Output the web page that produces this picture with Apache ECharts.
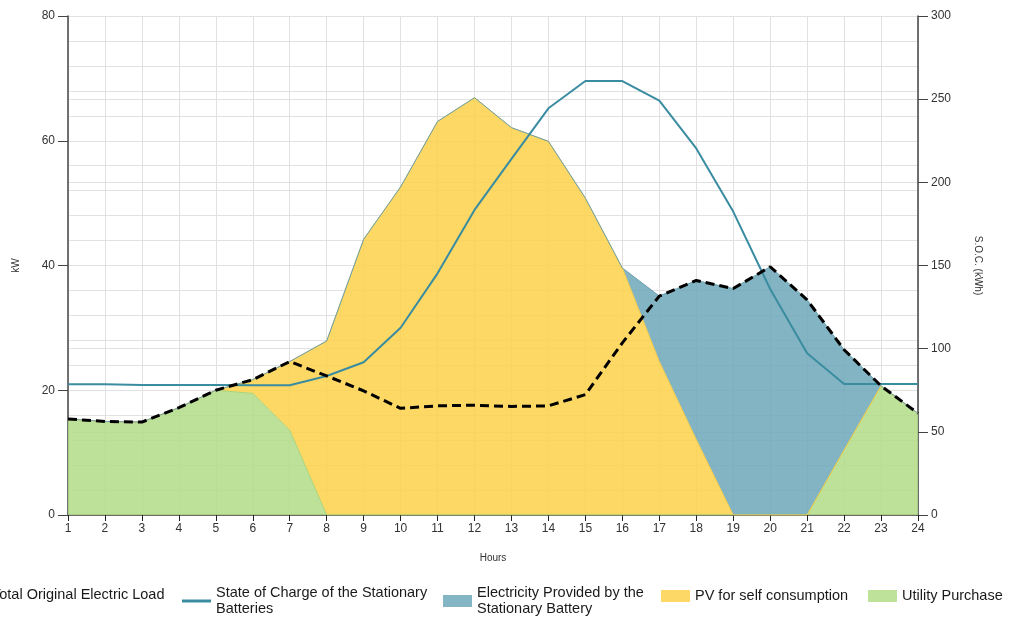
<!DOCTYPE html>
<html>
<head>
<meta charset="utf-8">
<title>Load profile</title>
<script src="https://cdn.jsdelivr.net/npm/echarts@6/dist/echarts.min.js"></script>
<style>
  html, body { margin: 0; padding: 0; background: #ffffff; }
  #main { width: 1009px; height: 620px; }
</style>
</head>
<body>
<div id="main"></div>
<script>
var hours = ['1', '2', '3', '4', '5', '6', '7', '8', '9', '10', '11', '12',
  '13', '14', '15', '16', '17', '18', '19', '20', '21', '22', '23', '24'];
// kW, left axis
var totalLoad = [15.4, 15.0, 14.9, 17.2, 20.0, 21.7, 24.6, 22.3, 19.9, 17.1, 17.5, 17.6,
  17.4, 17.5, 19.3, 27.6, 35.1, 37.6, 36.3, 39.8, 34.5, 26.5, 20.7, 16.3];
var utilityPurchase = [15.4, 15.0, 14.9, 17.2, 20.0, 19.5, 13.6, 0, 0, 0, 0, 0,
  0, 0, 0, 0, 0, 0, 0, 0, 0, 10.4, 20.7, 16.3];
var pvSelf = [0, 0, 0, 0, 0, 2.2, 11.0, 27.9, 44.2, 52.6, 63.1, 66.9,
  62.1, 59.9, 50.8, 39.6, 24.6, 12.1, 0, 0, 0, 0, 0, 0];
var batteryOut = [0, 0, 0, 0, 0, 0, 0, 0, 0, 0, 0, 0,
  0, 0, 0, 0, 10.5, 25.5, 36.3, 39.8, 34.5, 16.1, 0, 0];
// kWh, right axis
var soc = [78.6, 78.6, 78.2, 78.2, 78.1, 78.0, 78.0, 83.6, 91.8, 112.6, 145.3, 183.4,
  214.1, 244.5, 260.9, 260.9, 249.1, 220.4, 182.4, 135.9, 97.2, 78.8, 78.8, 78.8];

var chart = echarts.init(document.getElementById('main'), null, { renderer: 'canvas' });

var gridColor = '#e1e1e1';
var axisColor = '#444444';

function legendAt(name, left, top, icon, iconHeight) {
  var l = {
    data: [name],
    left: left,
    top: top,
    padding: 0,
    itemWidth: 29,
    itemHeight: iconHeight || 12,
    textStyle: { color: '#1a1a1a', fontSize: 14.5, lineHeight: 16 },
    itemStyle: { borderWidth: 0 },
    selectedMode: false
  };
  if (icon) l.icon = icon;
  return l;
}

var option = {
  backgroundColor: '#ffffff',
  animation: false,
  textStyle: { fontFamily: 'Liberation Sans, Arial, sans-serif' },
  grid: { left: 68, right: 91, top: 16, bottom: 105, containLabel: false, outerBoundsMode: 'none' },
  legend: [
    legendAt('Total Original Electric Load', -42, 587, 'rect', 3),
    legendAt('State of Charge of the Stationary\nBatteries', 182, 585, 'rect', 3),
    legendAt('Electricity Provided by the\nStationary Battery', 443, 585, 'rect'),
    legendAt('PV for self consumption', 661, 588, 'rect'),
    legendAt('Utility Purchase', 868, 588, 'rect')
  ],
  xAxis: {
    type: 'category',
    data: hours,
    boundaryGap: false,
    name: 'Hours',
    nameLocation: 'middle',
    nameGap: 38,
    nameMoveOverlap: false,
    nameTextStyle: { color: '#333333', fontSize: 10 },
    axisLine: { lineStyle: { color: axisColor, width: 1.5 } },
    axisTick: { length: 6, lineStyle: { color: '#222222' } },
    axisLabel: { color: '#333333', fontSize: 12, margin: 8 },
    splitLine: { show: true, lineStyle: { color: gridColor } }
  },
  yAxis: [{
    type: 'value',
    min: 0,
    max: 80,
    interval: 20,
    name: 'kW',
    nameLocation: 'middle',
    nameGap: 47,
    nameMoveOverlap: false,
    nameTextStyle: { color: '#333333', fontSize: 10 },
    axisLine: { show: true, lineStyle: { color: axisColor, width: 1.5 } },
    axisTick: { show: true, length: 10, lineStyle: { color: axisColor } },
    axisLabel: { color: '#333333', fontSize: 12, margin: 13 },
    splitLine: { show: true, lineStyle: { color: gridColor } },
    minorTick: { show: false, splitNumber: 5 },
    minorSplitLine: { show: true, lineStyle: { color: gridColor } }
  }, {
    type: 'value',
    min: 0,
    max: 300,
    interval: 50,
    position: 'right',
    name: 'S.O.C. (kWh)',
    nameLocation: 'middle',
    nameRotate: -90,
    nameGap: 55,
    nameMoveOverlap: false,
    nameTextStyle: { color: '#333333', fontSize: 10 },
    axisLine: { show: true, lineStyle: { color: axisColor, width: 1.5 } },
    axisTick: { show: true, length: 10, lineStyle: { color: axisColor } },
    axisLabel: { color: '#333333', fontSize: 12, margin: 13 },
    splitLine: { show: true, lineStyle: { color: gridColor } }
  }],
  series: [{
    name: 'Utility Purchase',
    type: 'line',
    stack: 'supply',
    data: utilityPurchase,
    symbol: 'none',
    color: '#bfe29a',
    lineStyle: { color: '#a9d47c', width: 1 },
    areaStyle: { color: '#b3dc88', opacity: 0.85 }
  }, {
    name: 'PV for self consumption',
    type: 'line',
    stack: 'supply',
    data: pvSelf,
    symbol: 'none',
    color: '#fdd866',
    lineStyle: { color: '#f2cb4c', width: 1 },
    areaStyle: { color: '#fdd14a', opacity: 0.85 }
  }, {
    name: 'Electricity Provided by the\nStationary Battery',
    type: 'line',
    stack: 'supply',
    data: batteryOut,
    symbol: 'none',
    color: '#84b5c4',
    lineStyle: { color: '#6a9fae', width: 1 },
    areaStyle: { color: '#6da7b8', opacity: 0.85 }
  }, {
    name: 'State of Charge of the Stationary\nBatteries',
    type: 'line',
    yAxisIndex: 1,
    data: soc,
    symbol: 'none',
    color: '#3a8ca0',
    lineStyle: { color: '#3a8ca0', width: 2 }
  }, {
    name: 'Total Original Electric Load',
    type: 'line',
    data: totalLoad,
    symbol: 'none',
    color: '#000000',
    lineStyle: { color: '#000000', width: 3, type: [9, 5] }
  }]
};

chart.setOption(option);
</script>
</body>
</html>
